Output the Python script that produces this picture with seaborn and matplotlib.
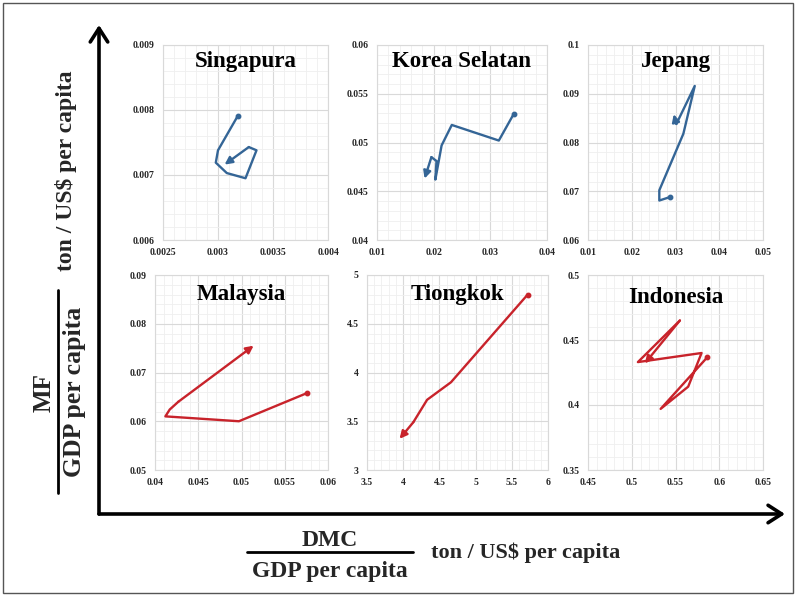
import numpy as np
import pandas as pd
import matplotlib
matplotlib.use("Agg")
import matplotlib.pyplot as plt
import seaborn as sns
from matplotlib.ticker import AutoMinorLocator, FuncFormatter
from matplotlib.patches import FancyArrowPatch, Rectangle
from matplotlib.lines import Line2D

sns.set_theme(style="white")
plt.rcParams["font.family"] = ["Liberation Serif", "DejaVu Serif"]
plt.rcParams["font.weight"] = "bold"

# DMC/GDP (x) and MF/GDP (y) trajectories, in time order
sing_x = [0.00318, 0.00300, 0.00298, 0.00308, 0.00325, 0.00335, 0.00328, 0.00306]
sing_y = [0.00791, 0.00738, 0.00719, 0.00703, 0.00695, 0.00738, 0.00743, 0.00716]

kor_x = [0.0341, 0.0315, 0.0232, 0.0214, 0.0203, 0.0205, 0.0196, 0.0184]
kor_y = [0.0529, 0.0502, 0.0518, 0.0497, 0.0462, 0.0481, 0.0485, 0.0463]

jep_x = [0.0287, 0.0263, 0.0263, 0.0318, 0.0344, 0.0302, 0.0296]
jep_y = [0.0688, 0.0681, 0.0702, 0.0818, 0.0916, 0.0838, 0.0858]

mal_x = [0.0576, 0.0497, 0.0412, 0.0417, 0.0427, 0.0514]
mal_y = [0.0658, 0.0600, 0.0610, 0.0624, 0.0640, 0.0755]

tio_x = [5.72, 4.66, 4.33, 4.14, 3.95]
tio_y = [4.80, 3.90, 3.72, 3.49, 3.32]

ind_x = [0.5863, 0.533, 0.5645, 0.5798, 0.507, 0.555, 0.515]
ind_y = [0.4367, 0.397, 0.4141, 0.4400, 0.433, 0.465, 0.432]

# Panel names, axis ranges and tick steps
names = ["Singapura", "Korea Selatan", "Jepang", "Malaysia", "Tiongkok", "Indonesia"]
xlims = [(0.0025, 0.004), (0.01, 0.04), (0.01, 0.05), (0.04, 0.06), (3.5, 6), (0.45, 0.65)]
ylims = [(0.006, 0.009), (0.04, 0.06), (0.06, 0.1), (0.05, 0.09), (3, 5), (0.35, 0.5)]
xsteps = [0.0005, 0.01, 0.01, 0.005, 0.5, 0.05]
ysteps = [0.001, 0.005, 0.01, 0.01, 0.5, 0.05]
series = [(sing_x, sing_y), (kor_x, kor_y), (jep_x, jep_y),
          (mal_x, mal_y), (tio_x, tio_y), (ind_x, ind_y)]

blue = "#346596"
red = "#C8232B"
colors = [blue, blue, blue, red, red, red]

W, H = 796, 596
fig = plt.figure(figsize=(W / 100, H / 100), dpi=100)


def fx(px):
    return px / W


def fy(py):
    return 1 - py / H


# plot-area boxes in pixels: left, right, top, bottom
boxes = [(163, 328, 45, 240), (377, 547, 45, 240), (588, 763, 45, 240),
         (155, 328, 275, 470), (367, 548, 275, 470), (588, 763, 275, 470)]
title_y = [0.913, 0.913, 0.913, 0.9, 0.9, 0.885]

fmt = FuncFormatter(lambda v, p: ("%.4f" % v).rstrip("0").rstrip("."))

for i in range(6):
    l, r, t, b = boxes[i]
    ax = fig.add_axes([fx(l), fy(b), (r - l) / W, (b - t) / H])
    xs, ys = series[i]
    df = pd.DataFrame({"x": xs, "y": ys})
    c = colors[i]
    sns.lineplot(data=df.iloc[:-1], x="x", y="y", sort=False, estimator=None,
                 color=c, lw=1.7, ax=ax)
    ax.plot(xs[0], ys[0], "o", color=c, ms=3.2, zorder=4)
    ax.annotate("", xy=(xs[-1], ys[-1]), xytext=(xs[-2], ys[-2]),
                arrowprops=dict(arrowstyle="-|>", color=c, lw=1.7,
                                mutation_scale=11, shrinkA=0, shrinkB=0),
                zorder=4)
    x0, x1 = xlims[i]
    y0, y1 = ylims[i]
    ax.set_xlim(x0, x1)
    ax.set_ylim(y0, y1)
    ax.set_xticks(np.round(np.arange(x0, x1 + xsteps[i] / 2, xsteps[i]), 6))
    ax.set_yticks(np.round(np.arange(y0, y1 + ysteps[i] / 2, ysteps[i]), 6))
    ax.xaxis.set_major_formatter(fmt)
    ax.yaxis.set_major_formatter(fmt)
    ax.xaxis.set_minor_locator(AutoMinorLocator(5))
    ax.yaxis.set_minor_locator(AutoMinorLocator(5))
    ax.grid(True, which="major", color="#D9D9D9", lw=0.8)
    ax.grid(True, which="minor", color="#EFEFEF", lw=0.6)
    ax.set_axisbelow(True)
    for s in ax.spines.values():
        s.set_color("#D9D9D9")
        s.set_linewidth(0.8)
    ax.tick_params(which="both", length=0, labelsize=7, pad=6)
    for lab in ax.get_xticklabels() + ax.get_yticklabels():
        lab.set_fontweight("bold")
    ax.set_xlabel("")
    ax.set_ylabel("")
    ax.text(0.5, title_y[i], names[i], transform=ax.transAxes, ha="center",
            va="center", fontsize=16.5, fontweight="bold", color="black")

# outer frame
fig.patches.append(Rectangle((fx(3), fy(593)), fx(790), 590 / H, transform=fig.transFigure,
                             fill=False, edgecolor="#555555", lw=1.0))

# main axes arrows
ax_kw = dict(transform=fig.transFigure, arrowstyle="->,head_length=0.7,head_width=0.45",
             color="black", lw=2.6, mutation_scale=14, shrinkA=0, shrinkB=0)
fig.patches.append(FancyArrowPatch((fx(99), fy(514)), (fx(99), fy(25)), **ax_kw))
fig.patches.append(FancyArrowPatch((fx(99), fy(514)), (fx(785), fy(514)), **ax_kw))

# x-axis quantity label
fig.text(fx(330), fy(541), "DMC", ha="center", va="center", fontsize=17, fontweight="bold")
fig.lines.append(Line2D([fx(247), fx(413)], [fy(552), fy(552)], transform=fig.transFigure,
                        color="black", lw=2.0))
fig.text(fx(330), fy(572), "GDP per capita", ha="center", va="center", fontsize=17,
         fontweight="bold")
fig.text(fx(526), fy(553), "ton / US$ per capita", ha="center", va="center", fontsize=16,
         fontweight="bold")

# y-axis quantity label
fig.text(fx(44), fy(392), "MF", ha="center", va="center", rotation=90, fontsize=18,
         fontweight="bold")
fig.lines.append(Line2D([fx(58), fx(58)], [fy(290), fy(493)], transform=fig.transFigure,
                        color="black", lw=2.0))
fig.text(fx(75), fy(392), "GDP per capita", ha="center", va="center", rotation=90,
         fontsize=18.5, fontweight="bold")
fig.text(fx(66), fy(171), "ton / US$ per capita", ha="center", va="center", rotation=90,
         fontsize=17, fontweight="bold")

fig.savefig("out.png", dpi=100, facecolor="white")
